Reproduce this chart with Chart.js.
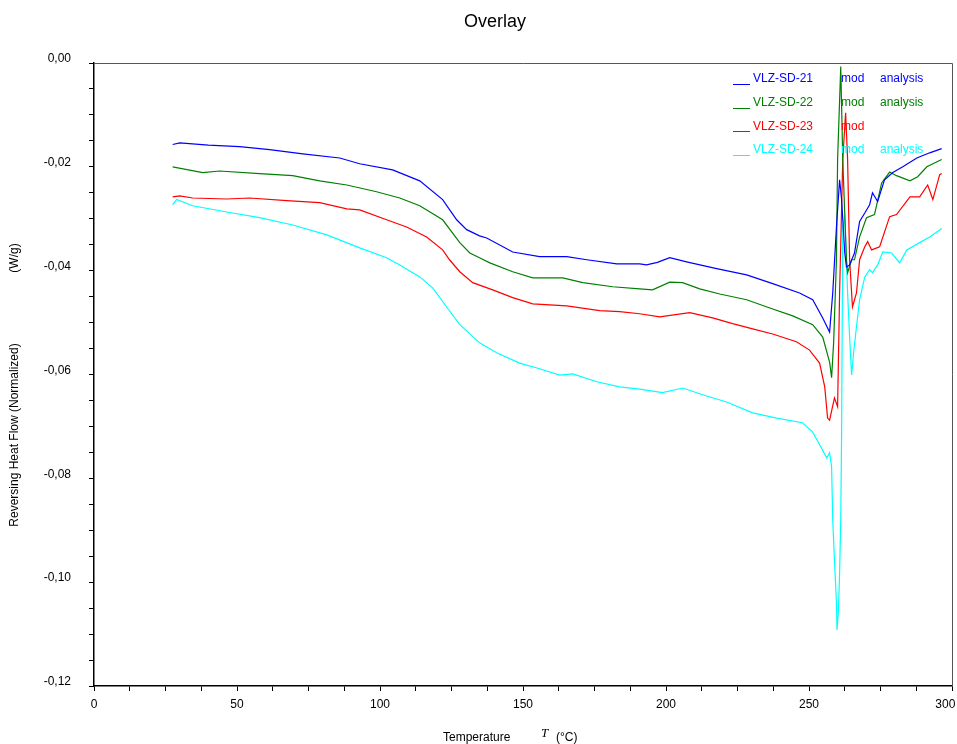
<!DOCTYPE html>
<html>
<head>
<meta charset="utf-8">
<title>Overlay</title>
<script src="https://cdn.jsdelivr.net/npm/chart.js@4/dist/chart.umd.min.js"></script>
<style>
  html, body { margin: 0; padding: 0; background: #fff; }
  #wrap { width: 957px; height: 744px; }
</style>
</head>
<body>
<div id="wrap"><canvas id="overlay" width="957" height="744"></canvas></div>
<script>
// temperature (°C) / reversing heat flow (W/g)
var t21 = [27.5, 30.0, 40.0, 50.9, 61.4, 73.0, 85.9, 92.9, 104.4, 113.9, 121.9, 126.8, 130.3, 134.8, 137.3, 146.4, 155.8, 165.3, 172.3, 182.8, 190.8, 193.2, 197.0, 201.3, 207.2, 217.7, 228.2, 237.3, 246.7, 251.3, 254.8, 257.2, 258.3, 259.6, 260.7, 261.4, 262.5, 263.1, 264.2, 265.9, 267.7, 269.5, 271.2, 272.2, 274.0, 276.4, 279.3, 282.8, 287.7, 292.2, 296.4];
var f21 = [-0.0157, -0.0154, -0.0158, -0.0161, -0.0167, -0.0175, -0.0183, -0.0194, -0.0206, -0.0227, -0.0263, -0.0302, -0.0321, -0.0333, -0.0337, -0.0364, -0.0373, -0.0373, -0.0379, -0.0387, -0.0387, -0.0389, -0.0384, -0.0375, -0.0383, -0.0396, -0.0408, -0.0425, -0.0443, -0.0456, -0.0491, -0.0518, -0.0443, -0.0316, -0.0225, -0.0263, -0.0366, -0.0393, -0.0389, -0.0366, -0.0305, -0.0289, -0.0273, -0.0250, -0.0267, -0.0225, -0.0211, -0.0200, -0.0183, -0.0173, -0.0165];

var t22 = [27.5, 38.0, 43.9, 57.9, 69.5, 78.9, 88.4, 98.8, 106.9, 113.9, 121.9, 127.9, 131.4, 134.8, 138.4, 146.4, 153.4, 163.9, 170.9, 181.4, 190.8, 195.3, 201.3, 205.8, 211.8, 218.8, 228.2, 236.3, 244.3, 251.3, 254.8, 257.2, 257.9, 258.6, 259.6, 260.0, 261.1, 261.8, 263.1, 263.5, 264.9, 265.9, 267.7, 270.1, 272.9, 275.4, 278.2, 280.6, 285.3, 288.0, 291.2, 296.4];
var f22 = [-0.0200, -0.0211, -0.0208, -0.0213, -0.0217, -0.0227, -0.0235, -0.0248, -0.0260, -0.0275, -0.0302, -0.0346, -0.0366, -0.0375, -0.0385, -0.0402, -0.0414, -0.0414, -0.0423, -0.0431, -0.0435, -0.0437, -0.0422, -0.0423, -0.0435, -0.0445, -0.0456, -0.0472, -0.0487, -0.0504, -0.0528, -0.0576, -0.0606, -0.0540, -0.0379, -0.0186, -0.0007, -0.0186, -0.0379, -0.0404, -0.0379, -0.0379, -0.0335, -0.0298, -0.0292, -0.0231, -0.0210, -0.0217, -0.0227, -0.0219, -0.0200, -0.0186];

var t23 = [27.5, 30.0, 34.5, 46.4, 54.4, 67.4, 78.9, 88.4, 92.9, 102.3, 109.3, 116.3, 121.9, 124.3, 127.9, 132.4, 139.4, 146.4, 153.4, 165.3, 176.8, 183.8, 190.8, 197.8, 208.3, 216.3, 223.3, 230.3, 237.3, 245.6, 250.2, 253.7, 255.5, 256.5, 257.2, 258.9, 260.0, 260.7, 261.8, 262.8, 263.5, 264.2, 265.2, 266.6, 267.7, 269.5, 270.5, 271.9, 274.7, 278.2, 280.6, 285.3, 288.7, 291.5, 293.3, 295.7, 296.4];
var f23 = [-0.0258, -0.0256, -0.0260, -0.0262, -0.0260, -0.0265, -0.0269, -0.0281, -0.0283, -0.0302, -0.0316, -0.0335, -0.0360, -0.0379, -0.0402, -0.0423, -0.0437, -0.0452, -0.0464, -0.0468, -0.0477, -0.0479, -0.0483, -0.0489, -0.0481, -0.0491, -0.0502, -0.0512, -0.0522, -0.0537, -0.0553, -0.0578, -0.0624, -0.0684, -0.0688, -0.0645, -0.0662, -0.0443, -0.0186, -0.0096, -0.0186, -0.0379, -0.0470, -0.0443, -0.0379, -0.0354, -0.0344, -0.0360, -0.0354, -0.0296, -0.0292, -0.0258, -0.0258, -0.0235, -0.0263, -0.0215, -0.0213];

var t24 = [27.5, 28.9, 34.5, 46.4, 57.9, 69.5, 81.4, 92.9, 102.3, 106.9, 113.9, 118.4, 123.3, 127.9, 134.8, 140.8, 148.8, 155.8, 162.8, 167.4, 175.8, 183.8, 190.8, 198.8, 205.8, 212.8, 221.2, 230.3, 238.7, 247.7, 251.3, 254.4, 256.2, 257.2, 257.9, 258.3, 258.9, 259.6, 259.8, 260.3, 260.7, 261.1, 261.4, 261.8, 262.5, 263.5, 264.2, 264.9, 265.6, 266.6, 267.7, 269.5, 271.2, 272.2, 274.0, 275.8, 278.9, 281.7, 284.2, 288.7, 292.2, 296.4];
var f24 = [-0.0273, -0.0263, -0.0275, -0.0287, -0.0298, -0.0312, -0.0331, -0.0356, -0.0375, -0.0389, -0.0412, -0.0433, -0.0470, -0.0504, -0.0539, -0.0558, -0.0578, -0.0589, -0.0601, -0.0599, -0.0614, -0.0624, -0.0628, -0.0635, -0.0626, -0.0639, -0.0653, -0.0674, -0.0684, -0.0693, -0.0711, -0.0742, -0.0761, -0.0751, -0.0778, -0.0880, -0.0957, -0.1040, -0.1092, -0.1054, -0.0982, -0.0880, -0.0713, -0.0316, -0.0296, -0.0443, -0.0528, -0.0601, -0.0558, -0.0508, -0.0456, -0.0412, -0.0398, -0.0404, -0.0389, -0.0364, -0.0366, -0.0385, -0.0360, -0.0346, -0.0335, -0.0319];

var sampleNames = ['VLZ-SD-21', 'VLZ-SD-22', 'VLZ-SD-23', 'VLZ-SD-24'];
var sampleColors = ['#0000ff', '#008000', '#ff0000', '#00ffff'];
// legend text after the name; SD-23 has no "analysis"
var legendNotes = [['mod', 'analysis'], ['mod', 'analysis'], ['mod', ''], ['mod', 'analysis']];

var FONT = '"Liberation Sans", Arial, sans-serif';

function pairs(ts, fs) {
  var out = [];
  for (var i = 0; i < ts.length; i++) out.push({ x: ts[i], y: fs[i] });
  return out;
}

function isMultiple(v, step) {
  var r = v / step;
  return Math.abs(r - Math.round(r)) < 1e-6;
}

//draws title, axis titles, legend and the top/right frame
var overlayText = {
  id: 'overlayText',
  afterDraw: function(chart) {
    var ctx = chart.ctx;
    var a = chart.chartArea;
    ctx.save();

    ctx.strokeStyle = '#555';
    ctx.lineWidth = 1;
    ctx.beginPath();
    ctx.moveTo(a.left, a.top + 0.5);
    ctx.lineTo(a.right + 0.5, a.top + 0.5);
    ctx.lineTo(a.right + 0.5, a.bottom);
    ctx.stroke();

    ctx.fillStyle = '#000';
    ctx.textBaseline = 'middle';
    ctx.textAlign = 'center';
    ctx.font = '18px ' + FONT;
    ctx.fillText('Overlay', 495, 22);

    ctx.font = '12px ' + FONT;
    ctx.textAlign = 'left';
    ctx.fillText('Temperature', 443, 738);
    ctx.font = 'italic 13px "Liberation Serif", "DejaVu Serif", serif';
    ctx.fillText('T', 541, 734);
    ctx.font = '12px ' + FONT;
    ctx.fillText('(\u00b0C)', 556, 738);

    ctx.save();
    ctx.translate(15, 435);
    ctx.rotate(-Math.PI / 2);
    ctx.textAlign = 'center';
    ctx.fillText('Reversing Heat Flow (Normalized)', 0, 0);
    ctx.restore();
    ctx.save();
    ctx.translate(15, 258);
    ctx.rotate(-Math.PI / 2);
    ctx.textAlign = 'center';
    ctx.fillText('(W/g)', 0, 0);
    ctx.restore();

    // legend
    for (var i = 0; i < sampleNames.length; i++) {
      var y = 79 + i * 23.6;
      ctx.strokeStyle = sampleColors[i];
      ctx.beginPath();
      ctx.moveTo(733, Math.round(y + 5) + 0.5);
      ctx.lineTo(750, Math.round(y + 5) + 0.5);
      ctx.stroke();
      ctx.fillStyle = sampleColors[i];
      ctx.textAlign = 'left';
      ctx.fillText(sampleNames[i], 753, y);
      ctx.fillText(legendNotes[i][0], 841, y);
      if (legendNotes[i][1]) ctx.fillText(legendNotes[i][1], 880, y);
    }
    ctx.restore();
  }
};

var datasets = [];
var allT = [t21, t22, t23, t24];
var allF = [f21, f22, f23, f24];
for (var k = 0; k < 4; k++) {
  datasets.push({
    label: sampleNames[k],
    data: pairs(allT[k], allF[k]),
    borderColor: sampleColors[k],
    backgroundColor: sampleColors[k],
    borderWidth: 1.2,
    pointRadius: 0,
    tension: 0,
    fill: false
  });
}

var chart = new Chart(document.getElementById('overlay'), {
  type: 'line',
  data: { datasets: datasets },
  options: {
    responsive: false,
    animation: false,
    devicePixelRatio: 1,
    layout: { padding: { left: 0, right: 5, top: 63, bottom: 0 } },
    plugins: {
      legend: { display: false },
      title: { display: false },
      tooltip: { enabled: false }
    },
    scales: {
      x: {
        type: 'linear',
        min: 0,
        max: 300,
        border: { display: true, color: '#000', width: 1.5 },
        grid: { display: true, drawOnChartArea: false, drawTicks: true, tickLength: 5, color: '#000' },
        ticks: {
          stepSize: 12.5,
          autoSkip: false,
          maxRotation: 0,
          padding: 6,
          color: '#000',
          font: { family: FONT, size: 12 },
          callback: function(v) {
            if (!isMultiple(v, 50)) return '';
            // last label sits inside the window edge, like the original
            return v === 300 ? '300    ' : String(v);
          }
        },
        afterFit: function(scale) {
          scale.height = 58;
          scale.paddingLeft = 0;
          scale.paddingRight = 0;
        }
      },
      y: {
        type: 'linear',
        min: -0.12,
        max: 0,
        border: { display: true, color: '#000', width: 1.5 },
        grid: { display: true, drawOnChartArea: false, drawTicks: true, tickLength: 5, color: '#000' },
        ticks: {
          stepSize: 0.005,
          autoSkip: false,
          padding: 18,
          labelOffset: -4,
          color: '#000',
          font: { family: FONT, size: 12 },
          callback: function(v) {
            if (!isMultiple(v, 0.02)) return '';
            if (Math.abs(v) < 1e-9) return '0,00';
            return v.toFixed(2).replace('.', ',');
          }
        },
        afterFit: function(scale) {
          scale.width = 94;
          scale.paddingTop = 0;
          scale.paddingBottom = 0;
        }
      }
    }
  },
  plugins: [overlayText]
});
</script>
</body>
</html>
